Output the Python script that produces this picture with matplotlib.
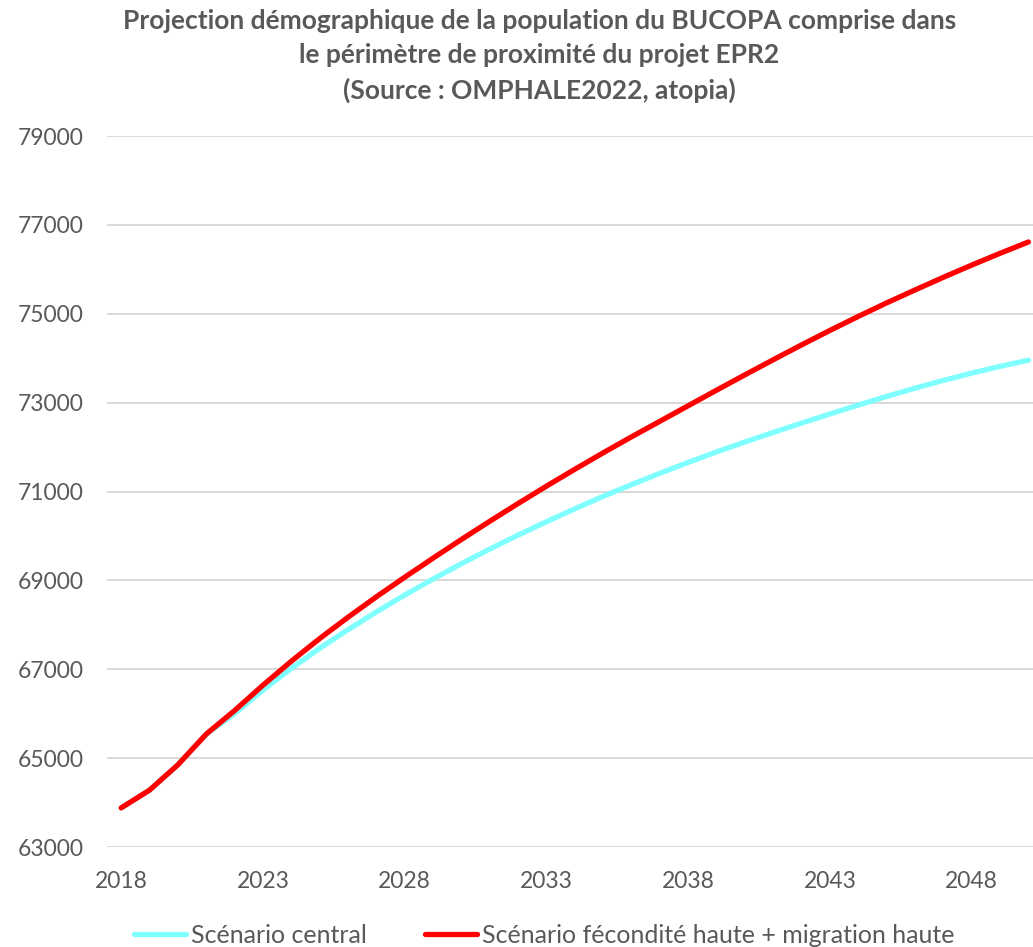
import matplotlib
matplotlib.use("Agg")
import matplotlib.pyplot as plt
from matplotlib.ticker import FixedLocator, FuncFormatter

plt.rcParams['font.family'] = ['Lato', 'DejaVu Sans']

years = list(range(2018, 2051))

central = [63880, 64280, 64850, 65540, 66000, 66530, 67020, 67470, 67890, 68290,
           68670, 69030, 69375, 69705, 70020, 70320, 70610, 70890, 71155, 71410,
           71655, 71890, 72115, 72330, 72540, 72745, 72945, 73140, 73325, 73500,
           73665, 73815, 73955]

haute = [63880, 64280, 64850, 65540, 66070, 66640, 67180, 67690, 68170, 68630,
         69070, 69500, 69920, 70330, 70730, 71120, 71500, 71870, 72230, 72580,
         72930, 73280, 73625, 73965, 74300, 74625, 74940, 75245, 75535, 75820,
         76095, 76360, 76615]

series_labels = ["Scénario central", "Scénario fécondité haute + migration haute"]
y_ticks = list(range(63000, 79001, 2000))
x_ticks = [2018, 2023, 2028, 2033, 2038, 2043, 2048]

title = ("Projection démographique de la population du BUCOPA comprise dans\n"
         "le périmètre de proximité du projet EPR2\n"
         "(Source : OMPHALE2022, atopia)")

W, H = 1033, 947
fig = plt.figure(figsize=(W / 100, H / 100), dpi=100)
ax = fig.add_axes([107 / W, (H - 847) / H, 935.6 / W, 711 / H])

text_gray = "#595959"

ax.plot(years, central, color="#80FFFF", lw=3.8, solid_capstyle="round",
        solid_joinstyle="round", label=series_labels[0], zorder=3)
ax.plot(years, haute, color="#FF0000", lw=3.8, solid_capstyle="round",
        solid_joinstyle="round", label=series_labels[1], zorder=4)

ax.set_xlim(2017.5, 2050.5)
ax.set_ylim(63000, 79000)
ax.yaxis.set_major_locator(FixedLocator(y_ticks))
ax.xaxis.set_major_locator(FixedLocator(x_ticks))
ax.yaxis.set_major_formatter(FuncFormatter(lambda v, p: f"{int(v)}"))
ax.grid(axis="y", color="#d9d9d9", lw=1.4, zorder=0)
ax.set_axisbelow(True)
for s in ax.spines.values():
    s.set_visible(False)
ax.tick_params(axis="both", length=0, labelsize=16.5, labelcolor=text_gray)
ax.tick_params(axis="y", pad=17)
ax.tick_params(axis="x", pad=17)

fig.text(0.522, 0.9905, title, ha="center", va="top", fontsize=19,
         fontweight="bold", color=text_gray, linespacing=1.5)

fig.legend(loc="lower center", bbox_to_anchor=(0.527, -0.024), ncol=2,
           frameon=False, fontsize=18, labelcolor=text_gray,
           handlelength=2.1, handletextpad=0.2, columnspacing=2.3)

fig.savefig("out.png", dpi=100, facecolor="white")
